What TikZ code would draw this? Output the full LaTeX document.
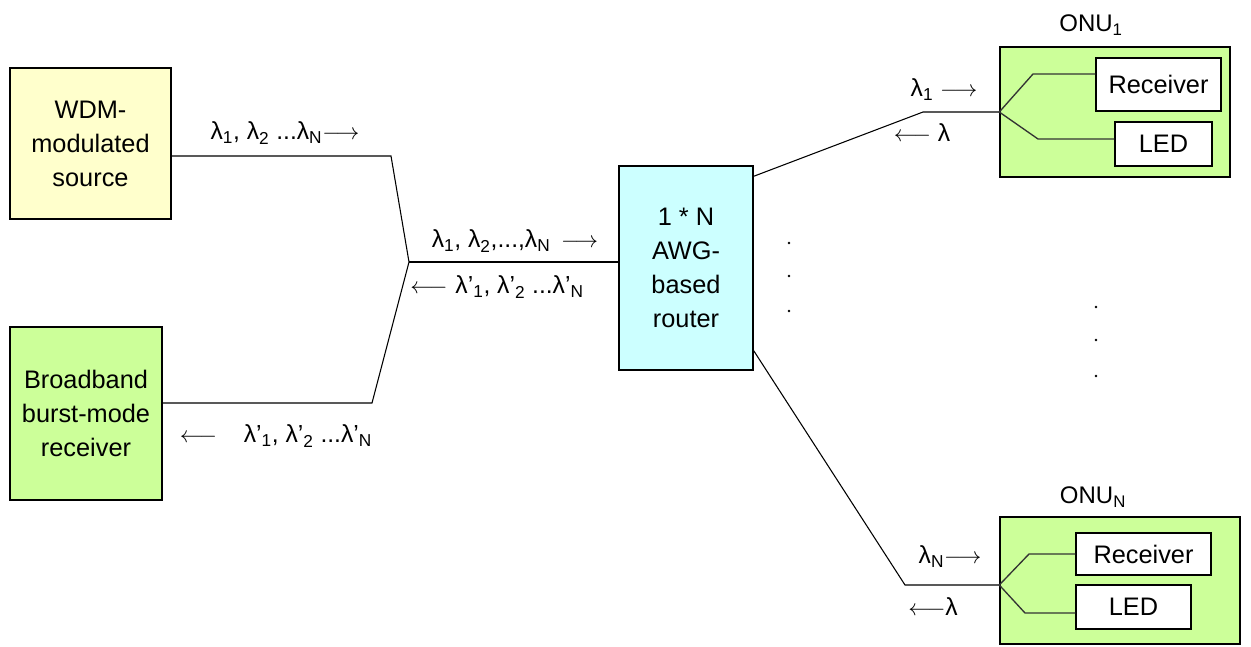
\documentclass[tikz,border=0pt]{standalone}
\usepackage{fontspec}
\setmainfont{Liberation Sans}
\usetikzlibrary{calc}

\definecolor{srcyellow}{RGB}{255,255,204}
\definecolor{onugreen}{RGB}{204,255,153}
\definecolor{awgcyan}{RGB}{204,255,255}
\newcommand{\lm}[1]{λ\textsubscript{#1}}
\newcommand{\lmp}[1]{λ’\textsubscript{#1}}

\begin{document}
\begin{tikzpicture}[x=0.75pt,y=-0.75pt,
	box/.style={draw,line width=1.1pt,align=center,inner sep=0pt,font=\fontsize{19}{25.5}\selectfont},
	part/.style={draw,line width=1.1pt,fill=white,inner sep=0pt,font=\fontsize{19}{20}\selectfont},
	lbl/.style={inner sep=0pt,font=\fontsize{18.5}{20}\selectfont},
	fibre/.style={line width=0.8pt},
	fork/.style={line width=1pt,black!80}]
		\useasboundingbox (0,0) rectangle (1251,646);
		% head end
		\node[box,fill=srcyellow,minimum width=120.75pt,minimum height=113.25pt] (wdm) at (90.5,143.5) {WDM-\\modulated\\source};
		\node[box,fill=onugreen,minimum width=114pt,minimum height=129.75pt] (bbr) at (86,413.5) {Broadband\\burst-mode\\receiver};
		\node[box,fill=awgcyan,minimum width=100.5pt,minimum height=153pt] (awg) at (686,268) {1 * N\\AWG-\\based\\router};
		% ONUs
		\node[box,fill=onugreen,minimum width=172.5pt,minimum height=97.5pt] (onu1) at (1115,112) {};
		\node[part,minimum width=93.75pt,minimum height=39.75pt] (rx1) at (1158.5,84.5) {Receiver};
		\node[part,minimum width=72.75pt,minimum height=33pt] (led1) at (1163.5,144) {LED};
		\node[lbl,font=\fontsize{18}{20}\selectfont] (onu1lbl) at (1091,25) {ONU\textsubscript{1}};
		\node[box,fill=onugreen,minimum width=180pt,minimum height=95.25pt] (onun) at (1120,580.5) {};
		\node[part,minimum width=101.25pt,minimum height=31.5pt] (rxn) at (1143.5,554) {Receiver};
		\node[part,minimum width=86.25pt,minimum height=33pt] (ledn) at (1133.5,607) {LED};
		\node[lbl,font=\fontsize{18}{20}\selectfont] (onunlbl) at (1093,497) {ONU\textsubscript{N}};
		% fibres
		\coordinate (j1) at (391,156);
		\coordinate (split) at (409,262);
		\coordinate (j2) at (372,403);
		\coordinate (k1) at (923,112);
		\coordinate (k2) at (905,585);
		\draw[fibre] (wdm.east |- j1) -- (j1) -- (split) -- (j2) -- (bbr.east |- j2);
		\draw[fibre] (split) -- (awg.west |- split);
		\draw[fibre] ($(awg.north east)+(0,11)$) -- (k1) -- (onu1.west |- k1);
		\draw[fibre] ($(awg.south east)+(0,-20)$) -- (k2) -- (onun.west |- k2);
		% splitters inside the ONUs
		\coordinate (f1) at (1033,74);
		\coordinate (f2) at (1038,139);
		\coordinate (f3) at (1029,554);
		\coordinate (f4) at (1025,613);
		\draw[fork] (rx1.west |- f1) -- (f1) -- (onu1.west |- k1) -- (f2) -- (led1.west |- f2);
		\draw[fork] (rxn.west |- f3) -- (f3) -- (onun.west |- k2) -- (f4) -- (ledn.west |- f4);
		% wavelength labels
		\node[lbl] (down1) at (285,133) {\lm{1}, \lm{2} ...\lm{N}$\longrightarrow$};
		\node[lbl] (up1) at (276,436) {$\longleftarrow$\hspace{20pt}\lmp{1}, \lmp{2} ...\lmp{N}};
		\node[lbl] (down2) at (515,241) {\lm{1}, \lm{2},...,\lm{N}\hspace{8pt}$\longrightarrow$};
		\node[lbl] (up2) at (497,287) {$\longleftarrow$\hspace{6pt}\lmp{1}, \lmp{2} ...\lmp{N}};
		\node[lbl] (d1) at (944,90) {\lm{1} $\longrightarrow$};
		\node[lbl] (u1) at (922,133) {$\longleftarrow$ λ};
		\node[lbl] (dn) at (950,557) {\lm{N}$\longrightarrow$};
		\node[lbl] (un) at (933,607) {$\longleftarrow$λ};
		% more ONUs
		\foreach \y in {243,276,311} \fill (789,\y) circle (1.4);
		\foreach \y in {307,340,376} \fill (1096,\y) circle (1.4);
\end{tikzpicture}
\end{document}
